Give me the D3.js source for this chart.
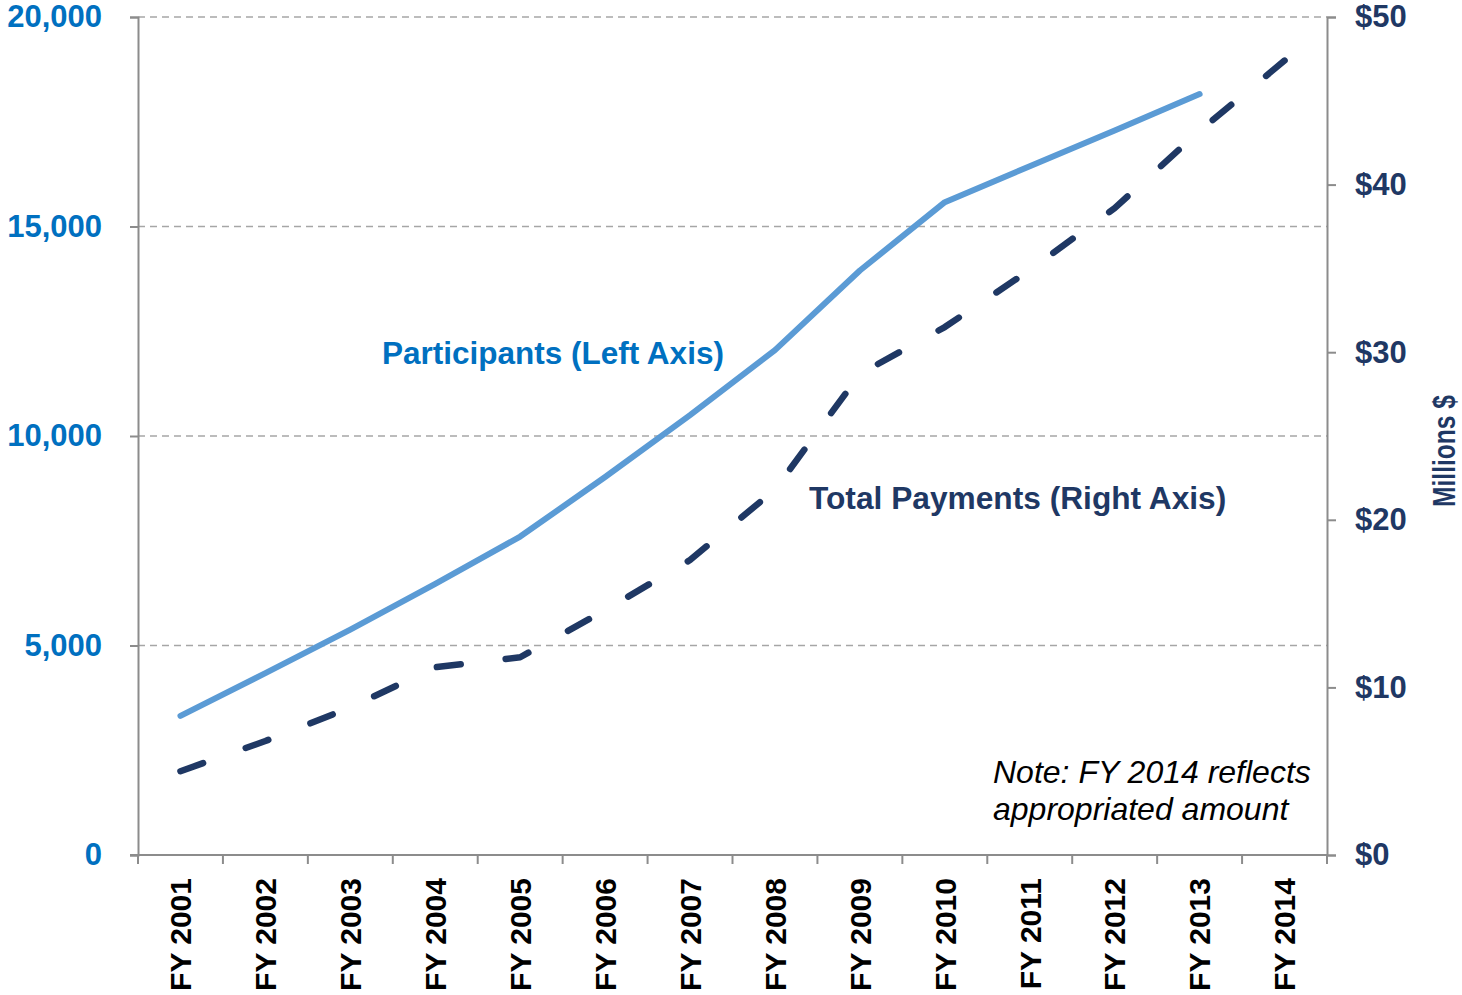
<!DOCTYPE html>
<html>
<head>
<meta charset="utf-8">
<script src="https://cdn.jsdelivr.net/npm/d3@7"></script>
<style>
  body { margin: 0; background: #fff; }
  text { font-family: "Liberation Sans", Arial, sans-serif; }
</style>
</head>
<body>
<div id="chart"></div>
<script>
// fiscal years on the x axis
var years = ["FY 2001", "FY 2002", "FY 2003", "FY 2004", "FY 2005", "FY 2006", "FY 2007",
             "FY 2008", "FY 2009", "FY 2010", "FY 2011", "FY 2012", "FY 2013", "FY 2014"];
// participants (left axis), no FY 2014 value
var participants = [3320, 4340, 5380, 6470, 7600, 9020, 10500, 12050, 13950, 15580, 16440, 17290, 18160, null];
// total payments, millions $ (right axis)
var payments = [5.0, 6.8, 8.8, 11.2, 11.8, 14.6, 17.6, 21.8, 28.7, 31.5, 34.9, 38.6, 43.2, 47.4];
var leftTicks = [0, 5000, 10000, 15000, 20000];
var rightTicks = [0, 10, 20, 30, 40, 50];

var W = 1462, H = 995;
var pLeft = 138, pRight = 1327, pTop = 17, pBottom = 855;

var svg = d3.select("#chart").append("svg").attr("width", W).attr("height", H);

var x = d3.scaleBand().domain(years).range([pLeft, pRight]).padding(0);
var yL = d3.scaleLinear().domain([0, 20000]).range([pBottom, pTop]);
var yR = d3.scaleLinear().domain([0, 50]).range([pBottom, pTop]);
var cx = function (d) { return x(d) + x.bandwidth() / 2; };

// gridlines
svg.append("g").selectAll("line")
    .data(leftTicks.filter(function (d) { return d > 0; }))
    .enter().append("line")
    .attr("x1", pLeft).attr("x2", pRight)
    .attr("y1", function (d) { return yL(d); })
    .attr("y2", function (d) { return yL(d); })
    .attr("stroke", "#a6a6a6").attr("stroke-width", 1.5)
    .attr("stroke-dasharray", "7,5");

var axisColor = "#8c8c8c";

// left axis
var gl = svg.append("g").attr("transform", "translate(" + pLeft + ",0)")
    .call(d3.axisLeft(yL).tickValues(leftTicks).tickSize(8).tickPadding(28)
        .tickFormat(d3.format(",")));
gl.select(".domain").attr("stroke", axisColor).attr("stroke-width", 2);
gl.selectAll(".tick line").attr("stroke", axisColor).attr("stroke-width", 2);
gl.selectAll(".tick text").attr("fill", "#0070c0").style("font-size", "31px")
    .style("font-weight", "bold").attr("font-family", null);

// right axis
var gr = svg.append("g").attr("transform", "translate(" + pRight + ",0)")
    .call(d3.axisRight(yR).tickValues(rightTicks).tickSize(9).tickPadding(19)
        .tickFormat(function (d) { return "$" + d; }));
gr.select(".domain").attr("stroke", axisColor).attr("stroke-width", 2);
gr.selectAll(".tick line").attr("stroke", axisColor).attr("stroke-width", 2);
gr.selectAll(".tick text").attr("fill", "#1f3864").style("font-size", "31px")
    .style("font-weight", "bold").attr("font-family", null);

// bottom axis: line, ticks on band edges, rotated labels
svg.append("line").attr("x1", pLeft - 8).attr("x2", pRight)
    .attr("y1", pBottom).attr("y2", pBottom)
    .attr("stroke", axisColor).attr("stroke-width", 2);
svg.append("g").selectAll("line")
    .data(years.concat(["end"]))
    .enter().append("line")
    .attr("x1", function (d) { return d === "end" ? pRight : x(d); })
    .attr("x2", function (d) { return d === "end" ? pRight : x(d); })
    .attr("y1", pBottom).attr("y2", pBottom + 9)
    .attr("stroke", axisColor).attr("stroke-width", 2);
svg.append("g").selectAll("text")
    .data(years)
    .enter().append("text")
    .attr("transform", function (d) { return "translate(" + cx(d) + ",878) rotate(-90)"; })
    .attr("dy", "0.36em")
    .attr("text-anchor", "end")
    .style("font-size", "30px").style("font-weight", "bold")
    .attr("fill", "#000")
    .text(function (d) { return d; });

// lines
var lineL = d3.line()
    .defined(function (d, i) { return participants[i] != null; })
    .x(function (d) { return cx(d); })
    .y(function (d, i) { return yL(participants[i]); });
var lineR = d3.line()
    .x(function (d) { return cx(d); })
    .y(function (d, i) { return yR(payments[i]); });

svg.append("path").datum(years).attr("d", lineL)
    .attr("fill", "none").attr("stroke", "#5b9bd5").attr("stroke-width", 6)
    .attr("stroke-linecap", "round").attr("stroke-linejoin", "round");
var payPath = svg.append("path").datum(years).attr("d", lineR)
    .attr("fill", "none").attr("stroke", "#1f3864").attr("stroke-width", 6.5)
    .attr("stroke-linecap", "round").attr("stroke-linejoin", "round");

// fit the dash period so the line starts and ends on a dash
var dash = 24;
var len = payPath.node().getTotalLength();
var n = Math.round((len - dash) / 68);
var period = (len - dash) / n;
payPath.attr("stroke-dasharray", dash + "," + (period - dash));

// series labels
svg.append("text").attr("x", 382).attr("y", 364)
    .style("font-size", "31.5px").style("font-weight", "bold").attr("fill", "#0070c0")
    .text("Participants (Left Axis)");
svg.append("text").attr("x", 809).attr("y", 509)
    .style("font-size", "31.7px").style("font-weight", "bold").attr("fill", "#1f3864")
    .text("Total Payments (Right Axis)");

// note
var note = svg.append("text").attr("x", 993).attr("y", 783)
    .style("font-size", "32px").style("font-style", "italic").attr("fill", "#000");
note.append("tspan").attr("x", 993).text("Note: FY 2014 reflects");
note.append("tspan").attr("x", 993).attr("dy", 37).text("appropriated amount");

// right axis title
svg.append("text")
    .attr("transform", "translate(1444,451) rotate(-90)")
    .attr("dy", "0.36em")
    .attr("text-anchor", "middle")
    .attr("textLength", 112).attr("lengthAdjust", "spacingAndGlyphs")
    .style("font-size", "31px").style("font-weight", "bold").attr("fill", "#1f3864")
    .text("Millions $");
</script>
</body>
</html>
